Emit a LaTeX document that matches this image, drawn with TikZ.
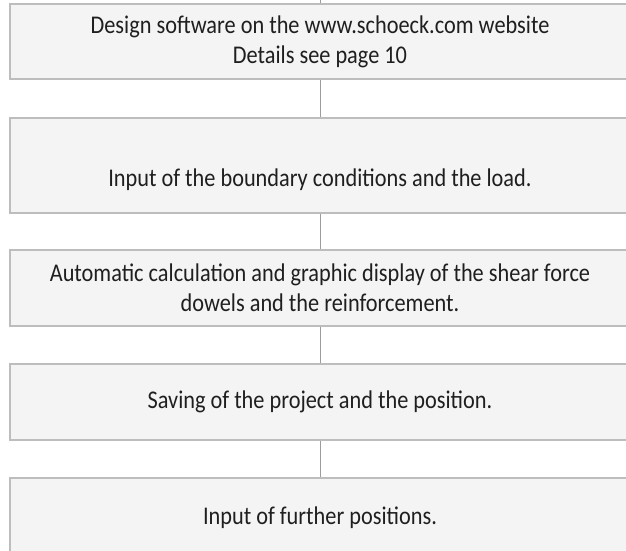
\documentclass[tikz,border=0pt]{standalone}
\usepackage{fontspec}
\setmainfont{Carlito}[FakeStretch=0.875]
\usepackage{tikz}
\usetikzlibrary{positioning}

\definecolor{boxfill}{HTML}{F4F4F4}
\definecolor{boxline}{HTML}{BDBDBD}
\definecolor{stemline}{HTML}{9C9C9C}

\begin{document}
\begin{tikzpicture}[x=1pt, y=1pt,
	box/.style={draw=boxline, line width=1.2pt, fill=boxfill, minimum width=620pt, inner sep=0pt, align=center, text=black!88, font=\fontsize{25.5}{30}\selectfont},
	stem/.style={draw=stemline, line width=1pt}]
	\useasboundingbox (0, 0) rectangle (626, -551);
	\clip (0, 0) rectangle (626, -551);
	\coordinate (t) at (320, 0);
	\node [box, minimum height=75pt] (0) at (320, -41.5) {Design software on the www.schoeck.com website\\Details see page 10};
	\node [box, minimum height=95pt, text height=47pt, text depth=6pt] (1) at (320, -165.5) {Input of the boundary conditions and the load.};
	\node [box, minimum height=76pt] (2) at (320, -288) {Automatic calculation and graphic display of the shear force\\dowels and the reinforcement.};
	\node [box, minimum height=76pt] (3) at (320, -402) {Saving of the project and the position.};
	\node [box, minimum height=80pt] (4) at (320, -518) {Input of further positions.};
	\draw [stem] (t) to (0);
	\draw [stem] (0) to (1);
	\draw [stem] (1) to (2);
	\draw [stem] (2) to (3);
	\draw [stem] (3) to (4);
\end{tikzpicture}
\end{document}
